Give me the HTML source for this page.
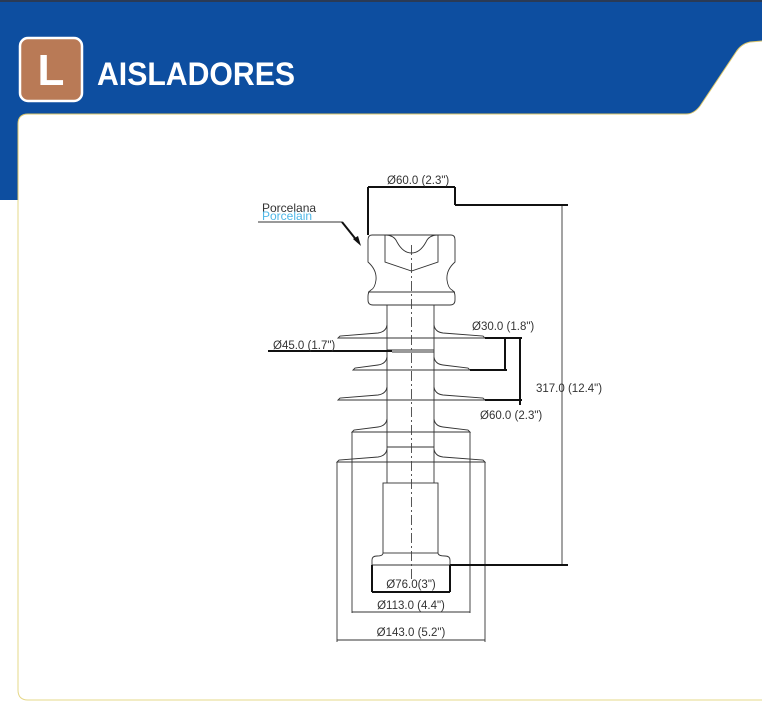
<!DOCTYPE html>
<html><head><meta charset="utf-8"><style>
html,body{margin:0;padding:0;background:#fff;}
body{width:762px;height:705px;overflow:hidden;position:relative;font-family:"Liberation Sans",sans-serif;}
</style></head><body>
<svg width="762" height="705" viewBox="0 0 762 705" xmlns="http://www.w3.org/2000/svg" style="position:absolute;left:0;top:0">
<rect x="0" y="0" width="762" height="705" fill="#fff"/>
<rect x="0" y="0" width="762" height="200" fill="#0d4ea0"/>
<rect x="0" y="0" width="762" height="2" fill="#2a3a55"/>
<path d="M18,200 L18,124 Q18,114 28,114 L686,114 Q694,114 700,106 L736,52 Q741,44 750,42 L762,41 L762,705 L18,705 Z" fill="#fff"/>
<path d="M18,200 L18,124 Q18,114 28,114 L686,114 Q694,114 700,106 L736,52 Q741,44 750,42 L762,41" fill="none" stroke="#d9c46a" stroke-width="1"/>
<path d="M18,200 L18,690 Q18,700 28,700 L762,700" fill="none" stroke="#e6d88a" stroke-width="1"/>
<rect x="20" y="38" width="62" height="63" rx="8" fill="#b97a56" stroke="#fff" stroke-width="2.5"/>
<text x="51" y="85" font-size="44" font-weight="bold" fill="#fff" text-anchor="middle" font-family="Liberation Sans, sans-serif">L</text>
<text x="97" y="85" font-size="32" font-weight="bold" fill="#fff" textLength="198" lengthAdjust="spacingAndGlyphs" font-family="Liberation Sans, sans-serif">AISLADORES</text>

<g fill="none" stroke="#333" stroke-width="0.9">
<!-- head -->
<path d="M372,235 L451,235 Q455,235 455,240 L455,262 Q446,270 447,280 Q448,288 452,290 Q455,292 455,296 L455,300 Q455,305 450,305 L373,305 Q368,305 368,300 L368,296 Q368,292 371,290 Q375,288 376,280 Q377,270 368,262 L368,240 Q368,235 372,235 Z"/>
<path d="M385,235 L385,262 L411.5,271 L438,262 L438,235"/>
<path d="M385,235 Q394,235 397,242 Q403,253 411.5,253 Q420,253 426,242 Q429,235 438,235"/>
<line x1="368" y1="292" x2="455" y2="292"/>
<!-- shaft -->
<line x1="387" y1="305" x2="387" y2="483"/><line x1="434" y1="305" x2="434" y2="483"/>
<!-- sheds -->
<path d="M387,325 Q386,332 378,333 L340,336 L338,338 L485,338 L483,336 L443,333 Q435,332 434,325"/>
<path d="M387,357 Q386,364 378,365 L355,368 L353,370 L470,370 L468,368 L443,365 Q435,364 434,357"/>
<path d="M387,387 Q386,394 378,395 L340,398 L338,400 L485,400 L483,398 L443,395 Q435,394 434,387"/>
<path d="M387,419 Q386,426 378,427 L354,430 L352,432 L470,432 L468,430 L443,427 Q435,426 434,419"/>
<path d="M387,449 Q386,456 378,457 L339,460 L337,462 L485,462 L483,460 L443,457 Q435,456 434,449"/>
<line x1="387" y1="350" x2="434" y2="350"/>
<line x1="387" y1="447" x2="434" y2="447"/>
<!-- lower -->
<rect x="383" y="483" width="55" height="70"/>
<path d="M383,553 Q383,556 377,556 Q372,556 372,560 L372,565 L450,565 L450,560 Q450,556 445,556 Q438,556 438,553"/>
<!-- dim lines thin -->
<line x1="352" y1="432" x2="352" y2="613"/><line x1="470" y1="432" x2="470" y2="613"/>
<line x1="337" y1="462" x2="337" y2="642"/><line x1="485" y1="462" x2="485" y2="642"/>
<line x1="352" y1="612" x2="470" y2="612"/>
<line x1="337" y1="640" x2="485" y2="640"/>
<line x1="562" y1="205" x2="562" y2="565"/>
<line x1="392" y1="352" x2="434" y2="352"/>
<line x1="258" y1="222" x2="342" y2="222"/>
</g>
<line x1="411.5" y1="245" x2="411.5" y2="580" stroke="#444" stroke-width="0.9" stroke-dasharray="10,3,2,3"/>
<g stroke="#111" stroke-width="2" fill="none">
<line x1="368" y1="187" x2="368" y2="235"/><line x1="455" y1="187" x2="455" y2="205"/>
<line x1="368" y1="187" x2="455" y2="187"/>
<line x1="455" y1="205" x2="568" y2="205"/>
<line x1="450" y1="565" x2="568" y2="565"/>
<line x1="372" y1="565" x2="372" y2="592"/><line x1="450" y1="565" x2="450" y2="592"/>
<line x1="372" y1="592" x2="450" y2="592"/>
<line x1="268" y1="351" x2="392" y2="351"/>
<line x1="485" y1="338" x2="522" y2="338"/>
<line x1="470" y1="370" x2="507" y2="370"/>
<line x1="505" y1="338" x2="505" y2="370"/>
<line x1="485" y1="400" x2="522" y2="400"/>
<line x1="520" y1="338" x2="520" y2="405"/>
<path d="M342,222 L358,242"/>
</g>
<path d="M361,246 L353,239 L358,236 Z" fill="#111"/>
<g font-family="Liberation Sans, sans-serif" font-size="11.5" fill="#333">
<text x="387" y="184">Ø60.0 (2.3")</text>
<text x="262" y="212" font-size="12">Porcelana</text>
<text x="262" y="220" font-size="12" fill="#4fb8e8">Porcelain</text>
<text x="273" y="349">Ø45.0 (1.7")</text>
<text x="472" y="330">Ø30.0 (1.8")</text>
<text x="536" y="392">317.0 (12.4")</text>
<text x="480" y="419">Ø60.0 (2.3")</text>
<text x="411" y="588" text-anchor="middle">Ø76.0(3")</text>
<text x="411" y="609" text-anchor="middle">Ø113.0 (4.4")</text>
<text x="411" y="636" text-anchor="middle">Ø143.0 (5.2")</text>
</g>
</svg>
</body></html>
